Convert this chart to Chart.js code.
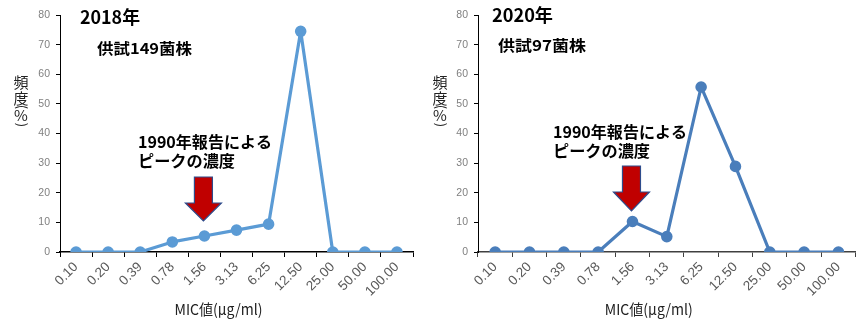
<!DOCTYPE html>
<html>
<head>
<meta charset="UTF-8">
<title>MIC分布</title>
<script src="https://cdn.jsdelivr.net/npm/chart.js@4.4.0/dist/chart.umd.min.js"></script>
<style>
  body { margin: 0; background: #fff; }
  .box { position: absolute; top: 0; }
  #left { left: 0; }
  #right { left: 430px; }
</style>
</head>
<body>
<div class="box" id="left"><canvas id="c2018" width="430" height="320"></canvas></div>
<div class="box" id="right"><canvas id="c2020" width="433" height="320"></canvas></div>

<script>
// MIC値 categories and frequency (%) per year
const mic = ['0.10', '0.20', '0.39', '0.78', '1.56', '3.13', '6.25', '12.50', '25.00', '50.00', '100.00'];
const freq2018 = [0, 0, 0, 3.4, 5.4, 7.4, 9.4, 74.5, 0, 0, 0];
const freq2020 = [0, 0, 0, 0, 10.3, 5.2, 55.7, 28.9, 0, 0, 0];
const peakIndex = 4; // 1990年報告のピーク (1.56)

const JP = '"Noto Sans CJK JP", "Noto Sans", sans-serif';

// draw text stretched to a given width
function fitText(ctx, str, x, y, w, font) {
  ctx.save();
  ctx.font = font;
  const m = ctx.measureText(str).width;
  ctx.translate(x, y);
  ctx.scale(w / m, 1);
  ctx.fillText(str, 0, 0);
  ctx.restore();
}

function downArrow(ctx, cx, top, headY, tip, shaftW, headW) {
  ctx.save();
  ctx.beginPath();
  ctx.moveTo(cx - shaftW / 2, top);
  ctx.lineTo(cx + shaftW / 2, top);
  ctx.lineTo(cx + shaftW / 2, headY);
  ctx.lineTo(cx + headW / 2, headY);
  ctx.lineTo(cx, tip);
  ctx.lineTo(cx - headW / 2, headY);
  ctx.lineTo(cx - shaftW / 2, headY);
  ctx.closePath();
  ctx.fillStyle = '#C00000';
  ctx.fill();
  ctx.strokeStyle = '#2E4C8C';
  ctx.lineWidth = 1.2;
  ctx.stroke();
  ctx.restore();
}

// rotated glyph (vertical-writing brackets)
function turned(ctx, ch, x, y) {
  ctx.save();
  ctx.translate(x, y);
  ctx.rotate(Math.PI / 2);
  ctx.fillText(ch, 0, 0);
  ctx.restore();
}

const notes = {
  id: 'notes',
  afterDraw(chart, args, o) {
    const ctx = chart.ctx;
    const xs = chart.scales.x;
    const area = chart.chartArea;
    ctx.save();
    ctx.fillStyle = '#000';
    ctx.textBaseline = 'middle';
    fitText(ctx, o.year, o.yearPos[0], o.yearPos[1], o.yearPos[2], 'bold 18px ' + JP);
    fitText(ctx, o.sample, o.samplePos[0], o.samplePos[1], o.samplePos[2], 'bold 15px ' + JP);
    fitText(ctx, '1990年報告による', o.notePos[0], o.notePos[1], 134, 'bold 16px ' + JP);
    fitText(ctx, 'ピークの濃度', o.notePos[0], o.notePos[1] + 19, 97, 'bold 16px ' + JP);

    // vertical y title
    ctx.fillStyle = '#222';
    ctx.textAlign = 'center';
    ctx.font = '15px ' + JP;
    ctx.fillText('頻', o.yTitleX, 82);
    ctx.fillText('度', o.yTitleX, 98);
    ctx.fillText('%', o.yTitleX, 115);
    ctx.font = '13px ' + JP;
    turned(ctx, '(', o.yTitleX + 1, 107);
    turned(ctx, ')', o.yTitleX + 1, 125);

    // x title
    ctx.textAlign = 'left';
    fitText(ctx, 'MIC値(μg/ml)', (area.left + area.right) / 2 - 62, 309, 88, '15px ' + JP);
    ctx.restore();

    const a = o.arrow;
    downArrow(ctx, xs.getPixelForValue(peakIndex) - 1, a[0], a[1], a[2], 18, 36);
  }
};

function makeChart(id, values, color, pad, yWidth, axisColor, o) {
  return new Chart(document.getElementById(id), {
    type: 'line',
    data: {
      labels: mic,
      datasets: [{
        data: values,
        borderColor: color,
        backgroundColor: color,
        borderWidth: 3.2,
        borderJoinStyle: 'round',
        pointRadius: 4.2,
        pointHoverRadius: 4.2,
        tension: 0
      }]
    },
    options: {
      responsive: false,
      animation: false,
      layout: { padding: pad },
      plugins: { legend: { display: false }, tooltip: { enabled: false }, notes: o },
      scales: {
        x: {
          offset: true,
          grid: { offset: true, drawOnChartArea: false, tickLength: 5, tickColor: axisColor },
          border: { color: axisColor, width: 1.5 },
          ticks: { minRotation: 45, maxRotation: 45, color: '#595959', font: { size: 13.5, family: 'Liberation Sans' }, padding: 2 },
          afterFit(s) { s.height = 68; }
        },
        y: {
          min: 0, max: 80,
          grid: { drawOnChartArea: false, tickLength: 4, tickColor: '#000' },
          border: { color: '#000', width: 1 },
          ticks: { stepSize: 10, color: '#808080', font: { size: 10.5, family: 'Liberation Sans' }, padding: 6 },
          afterFit(s) { s.width = yWidth; }
        }
      }
    },
    plugins: [notes]
  });
}

makeChart('c2018', freq2018, '#5B9BD5', { left: 0, right: 17, top: 15, bottom: 0 }, 60, '#000', {
  year: '2018年', yearPos: [80, 17, 60],
  sample: '供試149菌株', samplePos: [97, 48, 95],
  notePos: [138, 142],
  yTitleX: 21,
  arrow: [177, 203, 221]
});

makeChart('c2020', freq2020, '#4A7EBB', { left: 0, right: 3, top: 15, bottom: 0 }, 48, '#404040', {
  year: '2020年', yearPos: [62, 15, 61],
  sample: '供試97菌株', samplePos: [68, 45, 88],
  notePos: [123, 132],
  yTitleX: 10,
  arrow: [166, 192, 211]
});
</script>
</body>
</html>
